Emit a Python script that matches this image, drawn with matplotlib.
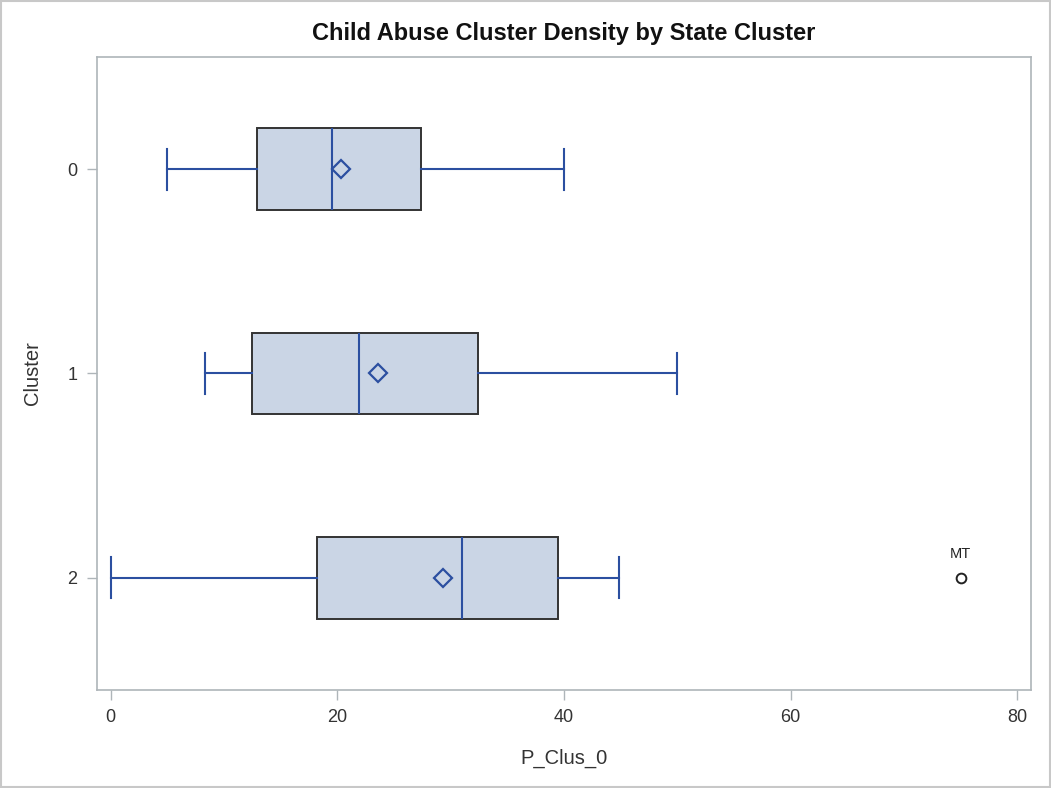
import matplotlib.pyplot as plt
from matplotlib.patches import Rectangle

plt.rcParams['font.family'] = ['Liberation Sans', 'DejaVu Sans']

# Box plot statistics, one entry per cluster
clusters = ['0', '1', '2']
whisker_lo = [5.0, 8.3, 0.0]
q1 = [12.95, 12.5, 18.2]
medians = [19.5, 21.95, 31.0]
means = [20.35, 23.55, 29.3]
q3 = [27.35, 32.4, 39.5]
whisker_hi = [40.0, 50.0, 44.85]
outliers = [[], [], [75.0]]
outlier_labels = [[], [], ['MT']]

blue = '#2B4FA0'
fill = '#CAD5E5'
frame_gray = '#AEB5B9'
text_gray = '#333333'

stats = []
for i in range(len(clusters)):
    stats.append({'label': clusters[i], 'whislo': whisker_lo[i], 'q1': q1[i],
                  'med': medians[i], 'mean': means[i], 'q3': q3[i],
                  'whishi': whisker_hi[i], 'fliers': outliers[i]})

fig = plt.figure(figsize=(10.51, 7.88), dpi=100)
ax = fig.add_axes([0.0923, 0.1244, 0.8887, 0.8033])

positions = list(range(len(clusters)))
ax.bxp(stats, positions=positions, vert=False, widths=0.4, patch_artist=True,
       showmeans=True, showfliers=True,
       boxprops=dict(facecolor=fill, edgecolor='#333333', linewidth=1.4),
       medianprops=dict(color=blue, linewidth=1.5),
       whiskerprops=dict(color=blue, linewidth=1.5),
       capprops=dict(color=blue, linewidth=1.5),
       meanprops=dict(marker='D', markerfacecolor='none', markeredgecolor=blue,
                      markersize=9, markeredgewidth=1.6),
       flierprops=dict(marker='o', markerfacecolor='none', markeredgecolor='#222222',
                       markersize=7, markeredgewidth=1.4))

# label the outliers with their state code
for i, (pts, labs) in enumerate(zip(outliers, outlier_labels)):
    for x, lab in zip(pts, labs):
        ax.annotate(lab, (x, positions[i]), xytext=(0, 12), textcoords='offset points',
                    ha='center', va='bottom', fontsize=10.5, color='#222222')

ax.set_xlim(-1.2, 81.2)
ax.set_ylim(2.55, -0.55)
ax.set_xticks([0, 20, 40, 60, 80])
ax.set_yticks(positions)
ax.set_yticklabels(clusters)

for s in ax.spines.values():
    s.set_color(frame_gray)
    s.set_linewidth(1.2)
ax.tick_params(axis='both', colors=frame_gray, labelcolor=text_gray, labelsize=13,
               length=7, width=1, direction='out', pad=7)

ax.set_xlabel('P_Clus_0', fontsize=14.5, color=text_gray, labelpad=16)
ax.set_ylabel('Cluster', fontsize=14.5, color=text_gray, labelpad=18)
ax.set_title('Child Abuse Cluster Density by State Cluster', fontsize=17,
             fontweight='bold', color='#111111', pad=12)

fig.patches.append(Rectangle((0.001, 0.001), 0.998, 0.998, transform=fig.transFigure,
                             fill=False, edgecolor='#C8C8C8', linewidth=1.5))

fig.savefig('out.png', dpi=100)
